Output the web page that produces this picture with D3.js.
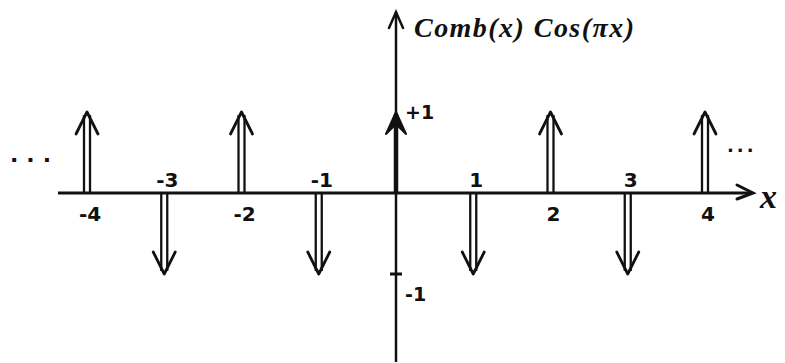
<!DOCTYPE html>
<html><head><meta charset="utf-8">
<script src="https://cdn.jsdelivr.net/npm/d3@7"></script>
<style>html,body{margin:0;padding:0;background:#fff;}svg{display:block;}</style>
</head><body>
<svg id="c" width="785" height="363"></svg>
<script>
const positions = [-4, -3, -2, -1, 0, 1, 2, 3, 4];
const values = [1, -1, 1, -1, 1, -1, 1, -1, 1];
const tickValues = [-4, -3, -2, -1, 1, 2, 3, 4];
const tickLabels = ["-4", "-3", "-2", "-1", "1", "2", "3", "4"];
const yTickValues = [1, -1];
const yTickLabels = ["+1", "-1"];
const title = "Comb(x) Cos(πx)";
const xLabel = "x";

const svg = d3.select("#c");
const x = d3.scaleLinear().domain([-4, 4]).range([87, 705]);
const y = d3.scaleLinear().domain([-1, 1]).range([274, 112]);
const x0 = x(0), y0 = y(0);
const ink = "#111";

// x axis
svg.append("line").attr("x1", 58).attr("x2", 752).attr("y1", y0).attr("y2", y0)
  .attr("stroke", ink).attr("stroke-width", 3);
svg.append("path").attr("d", `M${737},${y0-8}L${753},${y0}L${737},${y0+6}`)
  .attr("fill", "none").attr("stroke", ink).attr("stroke-width", 3).attr("stroke-linecap", "round");
// y axis
svg.append("line").attr("x1", x0).attr("x2", x0).attr("y1", 362).attr("y2", 12)
  .attr("stroke", ink).attr("stroke-width", 2.5);
svg.append("path").attr("d", `M${x0-7},${28}L${x0},${12}L${x0+7},${28}`)
  .attr("fill", "none").attr("stroke", ink).attr("stroke-width", 2.5).attr("stroke-linecap", "round");

// y ticks
yTickValues.forEach((v, i) => {
  if (v < 0) {
    svg.append("line").attr("x1", x0 - 6).attr("x2", x0 + 6).attr("y1", y(v)).attr("y2", y(v))
      .attr("stroke", ink).attr("stroke-width", 3);
  }
  svg.append("text").attr("x", x0 + 9).attr("y", v > 0 ? y(v) + 7 : y(v) + 27)
    .attr("font-family", "DejaVu Sans").attr("font-weight", "bold").attr("font-size", 19).attr("fill", ink)
    .text(yTickLabels[i]);
});

// impulses
positions.forEach((p, i) => {
  const v = values[i];
  const cx = x(p), ty = y(v);
  const dir = v > 0 ? 1 : -1;
  const g = svg.append("g");
  if (p === 0) {
    g.append("line").attr("x1", cx).attr("x2", cx).attr("y1", y0).attr("y2", ty + 2)
      .attr("stroke", ink).attr("stroke-width", 4.5);
    g.append("path").attr("d", `M${cx-10},${ty+dir*22}L${cx},${ty}L${cx+10},${ty+dir*22}L${cx},${ty+dir*12}Z`)
      .attr("fill", ink).attr("stroke", ink).attr("stroke-width", 2).attr("stroke-linejoin", "round");
  } else {
    [-3, 3].forEach(o => {
      g.append("line").attr("x1", cx + o).attr("x2", cx + o).attr("y1", y0).attr("y2", ty + dir * 3)
        .attr("stroke", ink).attr("stroke-width", 2.3);
    });
    g.append("path").attr("d", `M${cx-11},${ty+dir*22}L${cx},${ty}L${cx+11},${ty+dir*22}`)
      .attr("fill", "none").attr("stroke", ink).attr("stroke-width", 2.8)
      .attr("stroke-linecap", "round").attr("stroke-linejoin", "round");
  }
});

// x tick labels
tickValues.forEach((t, i) => {
  const v = values[positions.indexOf(t)];
  svg.append("text").attr("x", x(t) + 3).attr("y", v > 0 ? y0 + 28 : y0 - 6)
    .attr("text-anchor", "middle").attr("font-family", "DejaVu Sans").attr("font-weight", "bold")
    .attr("font-size", 20).attr("fill", ink).text(tickLabels[i]);
});

// ellipsis
svg.append("text").attr("x", 10).attr("y", 162).attr("font-family", "DejaVu Sans").attr("font-weight", "bold")
  .attr("font-size", 22).attr("letter-spacing", 8).attr("fill", ink).text("...");
svg.append("text").attr("x", 727).attr("y", 152).attr("font-family", "DejaVu Sans").attr("font-weight", "bold")
  .attr("font-size", 18).attr("letter-spacing", 3).attr("fill", ink).text("...");

// title & axis label
svg.append("text").attr("x", 414).attr("y", 37).attr("font-family", "Liberation Serif")
  .attr("font-style", "italic").attr("font-weight", "bold").attr("font-size", 28)
  .attr("textLength", 220).attr("fill", ink).text(title);
svg.append("text").attr("x", 760).attr("y", 208).attr("font-family", "Liberation Serif")
  .attr("font-style", "italic").attr("font-weight", "bold").attr("font-size", 34).attr("fill", ink).text(xLabel);
</script>
</body></html>
